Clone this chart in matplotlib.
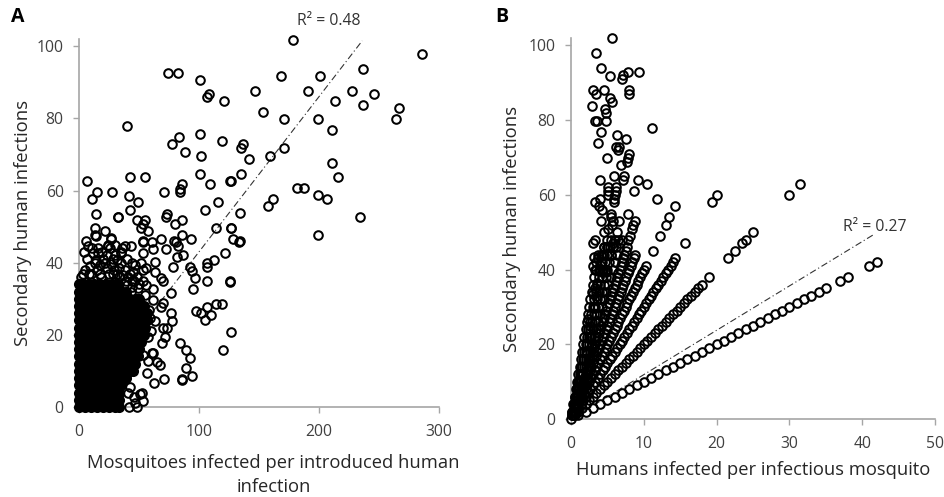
import matplotlib
matplotlib.use('Agg')
import matplotlib.pyplot as plt

plt.rcParams['font.family'] = ['Open Sans', 'DejaVu Sans']

# Panel A: scattered points that can be read one by one
a_x = [178.6, 286, 236.4, 168.6, 200.5, 146.7, 190.5, 227.5, 245.5, 213.6, 236.4, 266.7, 264.4,
       153.6, 170.8, 199.4, 210.6, 136.7, 134.7, 170.8, 142, 158.9, 210.6, 215.6, 134.7, 127,
       181.7, 187.8, 199.4, 206.7, 161.7, 157.8, 134.2, 234.4, 127, 199.4, 134,
       73.9, 82.5, 100.8, 108.3, 106.9, 121, 40, 83.3, 77.2, 100.8, 118.9, 88, 102, 100.8,
       6.7, 42.2, 55, 125.8, 108.9, 86, 84.2, 84.2, 14.7, 27.5, 71, 10.6, 41.4, 49.2, 115.8,
       14.4, 42.2, 105, 32.5, 32.7, 73.3, 72.2, 48.6, 55, 86, 80.3, 53.6, 51.7, 57.8, 114, 127,
       13.3, 21.4, 13.3, 26.7, 68.3, 85.6, 93, 79, 53, 128,
       14, 26.4, 60.6, 133, 53.6, 7.2, 24.5, 38, 43, 80.8, 82.8, 72.5, 61.5, 53.5, 86.6, 81.5,
       122, 112.5, 107, 106.4, 92.5, 94, 96.6, 95.3, 106.4, 125.8, 126.2, 76.4, 78.6, 69.7, 68,
       63.3, 62, 70.3, 68.6, 76.4, 77.2, 73, 69.7, 72, 69.4, 84.2, 89.2, 92.5, 119.7, 127,
       97.5, 106.4, 102, 105, 110, 114, 119.5, 89.2, 94, 85.6, 86.2, 71, 62.8, 67.5, 64.7,
       60.6, 57.4, 53.6, 48, 42, 46.7, 50.8,
       3, 7, 12, 16, 14.5, 17.5, 23, 30, 34.6, 31.5, 27, 23, 9, 33, 37, 28.6, 17.5, 46.6, 45,
       53.6, 56, 63, 56, 53.6, 49, 44, 42.5, 44, 39.7, 62, 59, 63, 57.7, 62, 53.6, 56.4, 42.5,
       41, 45.8, 52.6]
a_y = [101.7, 97.8, 93.7, 91.7, 91.7, 87.7, 87.7, 87.7, 86.7, 84.8, 83.8, 82.8, 79.8,
       81.7, 79.8, 79.8, 76.8, 72.8, 71.8, 71.8, 68.7, 69.7, 67.7, 63.7, 64.7, 62.7,
       60.7, 60.7, 58.7, 57.7, 57.7, 55.7, 53.7, 52.7, 49.6, 47.6, 46,
       92.7, 92.7, 90.7, 86.8, 85.8, 84.8, 77.8, 74.8, 72.8, 75.7, 73.8, 70.8, 69.7, 64.7,
       62.7, 63.7, 63.7, 62.7, 61.7, 61.7, 60.5, 59.6, 59.6, 59.6, 59.6, 57.6, 58.6, 56.7, 56.7,
       53.6, 54.7, 54.7, 52.7, 52.6, 53.6, 52.7, 51.7, 51.7, 51.7, 50.7, 50.7, 49.7, 48.7, 49.7, 49.7,
       49.7, 48.7, 47.6, 46.7, 46.7, 47.6, 46.7, 46, 46, 46.7,
       47.4, 46.8, 45.7, 45.7, 45.7, 44.7, 44.7, 44.7, 44.7, 45.7, 44.7, 43.7, 43.7, 42.7, 42, 41.6,
       42.7, 40.7, 39.8, 38.7, 38.7, 37.7, 35.7, 32.7, 34.8, 34.8, 34.7, 31.7, 38.7, 34.8, 35.7,
       37.5, 32.7, 28.7, 27.7, 26, 23.7, 22, 22, 19.5, 17.7, 17.7, 15.7, 13.6, 15.7, 20.7,
       26.7, 27.6, 26, 24.2, 25.5, 28.5, 28.5, 10.7, 8.7, 7.6, 7.8, 7.7, 6.6, 11.7, 12.5,
       15, 12.7, 1.8, 0, 0, 1, 3.7,
       37, 41, 42.6, 42.6, 40.7, 39.3, 42, 42, 42.6, 40.7, 39.6, 38.4, 39, 38.4, 36.6, 37, 37, 39.3, 37.5,
       38, 38.4, 40.2, 33.8, 35, 33, 35, 37, 33.3, 33.8, 29.7, 24.7, 23.7, 19.5, 15, 14.5, 9.4, 5.6,
       3.8, 2.7, 3.8]

# Panel A: the crowded band just above the solid mass
a_top_x = [2, 5, 10, 13, 18, 20, 25, 28, 32, 35, 38, 41, 4, 8, 11, 15, 19, 22, 26, 29, 33, 36, 40,
           44, 48, 52, 46, 50, 55, 39, 43, 47, 35, 30, 24, 16, 6, 58, 60]
a_top_y = [36, 38, 37, 40, 36, 41, 37, 41, 37, 40, 38, 36, 43, 37, 44, 38, 43, 40, 44, 38, 36, 44, 41,
           40, 36, 40, 35, 34, 31, 35, 32, 30, 43, 45, 45, 44, 46, 27, 21]

# Panel A: the solid mass near the origin, row by row
blob_y = [0, 2, 4, 6, 8, 10, 12, 14, 16, 18, 20, 22, 24, 26, 28, 30, 32, 34]
blob_x = [[0, 5, 10, 15, 20, 25, 30, 33],
          [0, 2.5, 7.5, 12.5, 17.5, 22.5, 27.5, 33],
          [0, 5, 10, 15, 20, 25, 30, 33],
          [0, 2.5, 7.5, 12.5, 17.5, 22.5, 27.5, 32.5, 35],
          [0, 5, 10, 15, 20, 25, 30, 35, 39],
          [0, 2.5, 7.5, 12.5, 17.5, 22.5, 27.5, 32.5, 37.5, 42.5, 45],
          [0, 5, 10, 15, 20, 25, 30, 35, 40, 45, 47],
          [0, 2.5, 7.5, 12.5, 17.5, 22.5, 27.5, 32.5, 37.5, 42.5, 47.5, 49],
          [0, 5, 10, 15, 20, 25, 30, 35, 40, 45, 50],
          [0, 2.5, 7.5, 12.5, 17.5, 22.5, 27.5, 32.5, 37.5, 42.5, 47.5, 52],
          [0, 5, 10, 15, 20, 25, 30, 35, 40, 45, 50, 54],
          [0, 2.5, 7.5, 12.5, 17.5, 22.5, 27.5, 32.5, 37.5, 42.5, 47.5, 52.5, 55],
          [0, 5, 10, 15, 20, 25, 30, 35, 40, 45, 50, 55, 57],
          [0, 2.5, 7.5, 12.5, 17.5, 22.5, 27.5, 32.5, 37.5, 42.5, 47.5, 52.5, 57],
          [0, 5, 10, 15, 20, 25, 30, 35, 40, 45, 50, 54],
          [0, 2.5, 7.5, 12.5, 17.5, 22.5, 27.5, 32.5, 37.5, 42.5, 47.5, 50],
          [0, 5, 10, 15, 20, 25, 30, 35, 39],
          [0, 2.5, 7.5, 12.5, 17.5, 22.5, 27.5, 32.5]]

trend_a_x = [0, 236]
trend_a_y = [0, 101.5]

# Panel B: the rays, each is a fixed ratio of humans to infected humans
ray1_x = [0, 1, 2, 3, 4, 5, 6, 7, 8, 9, 10, 11, 12, 13, 14, 15, 16, 17, 18, 19, 20, 21, 22, 23, 24,
          25, 26, 27, 28, 29, 30, 31, 32, 33, 34, 35, 37, 38, 41, 42]
ray1_y = [0, 1, 2, 3, 4, 5, 6, 7, 8, 9, 10, 11, 12, 13, 14, 15, 16, 17, 18, 19, 20, 21, 22, 23, 24,
          25, 26, 27, 28, 29, 30, 31, 32, 33, 34, 35, 37, 38, 41, 42]
ray2_x = [0.5, 1, 1.5, 2, 2.5, 3, 3.5, 4, 4.5, 5, 5.5, 6, 6.5, 7, 7.5, 8, 8.5, 9, 9.5, 10, 10.5, 11,
          11.5, 12, 12.5, 13, 13.5, 14, 14.5, 15, 15.5, 16, 16.5, 17, 17.5, 18, 19, 21.5, 22.5, 23.5,
          24, 25, 30, 31.5]
ray2_y = [1, 2, 3, 4, 5, 6, 7, 8, 9, 10, 11, 12, 13, 14, 15, 16, 17, 18, 19, 20, 21, 22,
          23, 24, 25, 26, 27, 28, 29, 30, 31, 32, 33, 34, 35, 36, 38, 43, 45, 47,
          48, 50, 60, 63]
ray3_x = [0.33, 0.67, 1, 1.33, 1.67, 2, 2.33, 2.67, 3, 3.33, 3.67, 4, 4.33, 4.67, 5, 5.33, 5.67, 6,
          6.33, 6.67, 7, 7.33, 7.67, 8, 8.33, 8.67, 9, 9.33, 9.67, 10, 10.33, 10.67, 11, 11.33, 11.67,
          12, 12.33, 12.67, 13, 13.33, 13.67, 14, 14.33, 15.67, 19.33, 20]
ray3_y = [1, 2, 3, 4, 5, 6, 7, 8, 9, 10, 11, 12, 13, 14, 15, 16, 17, 18,
          19, 20, 21, 22, 23, 24, 25, 26, 27, 28, 29, 30, 31, 32, 33, 34, 35,
          36, 37, 38, 39, 40, 41, 42, 43, 47, 58, 60]
ray4_x = [0.25, 0.5, 0.75, 1, 1.25, 1.5, 1.75, 2, 2.25, 2.5, 2.75, 3, 3.25, 3.5, 3.75, 4, 4.25, 4.5,
          4.75, 5, 5.25, 5.5, 5.75, 6, 6.25, 6.5, 6.75, 7, 7.25, 7.5, 7.75, 8, 8.25, 8.5, 8.75, 9,
          9.25, 9.5, 9.75, 10, 10.25, 11.25, 12.25, 13, 13.5, 14.25]
ray4_y = [1, 2, 3, 4, 5, 6, 7, 8, 9, 10, 11, 12, 13, 14, 15, 16, 17, 18,
          19, 20, 21, 22, 23, 24, 25, 26, 27, 28, 29, 30, 31, 32, 33, 34, 35, 36,
          37, 38, 39, 40, 41, 45, 49, 52, 54, 57]
ray5_x = [0.2, 0.4, 0.6, 0.8, 1, 1.2, 1.4, 1.6, 1.8, 2, 2.2, 2.4, 2.6, 2.8, 3, 3.2, 3.4, 3.6, 3.8, 4,
          4.2, 4.4, 4.6, 4.8, 5, 5.2, 5.4, 5.6, 5.8, 6, 6.2, 6.4, 6.6, 6.8, 7, 7.2, 7.4, 7.6, 7.8, 8,
          8.2, 8.4, 8.6, 8.8, 11.8]
ray5_y = [1, 2, 3, 4, 5, 6, 7, 8, 9, 10, 11, 12, 13, 14, 15, 16, 17, 18, 19, 20,
          21, 22, 23, 24, 25, 26, 27, 28, 29, 30, 31, 32, 33, 34, 35, 36, 37, 38, 39, 40,
          41, 42, 43, 44, 59]
ray6_x = [0.17, 0.33, 0.5, 0.67, 0.83, 1, 1.17, 1.33, 1.5, 1.67, 1.83, 2, 2.17, 2.33, 2.5, 2.67, 2.83,
          3, 3.17, 3.33, 3.5, 3.67, 3.83, 4, 4.17, 4.33, 4.5, 4.67, 4.83, 5, 5.17, 5.33, 5.5, 5.67,
          5.83, 6, 6.17, 6.33, 6.5, 6.67, 6.83, 7, 7.17, 7.33, 7.5, 7.67, 10.5]
ray6_y = [1, 2, 3, 4, 5, 6, 7, 8, 9, 10, 11, 12, 13, 14, 15, 16, 17,
          18, 19, 20, 21, 22, 23, 24, 25, 26, 27, 28, 29, 30, 31, 32, 33, 34,
          35, 36, 37, 38, 39, 40, 41, 42, 43, 44, 45, 46, 63]
ray7_x = [0.29, 0.57, 0.86, 1.14, 1.43, 1.71, 2, 2.29, 2.57, 2.86, 3.14, 3.43, 3.71, 4, 4.29, 4.57,
          4.86, 5.14, 5.43, 5.71, 6, 6.29, 8.71, 9.14, 11.14]
ray7_y = [2, 4, 6, 8, 10, 12, 14, 16, 18, 20, 22, 24, 26, 28, 30, 32,
          34, 36, 38, 40, 42, 44, 61, 64, 78]
ray8_x = [0.25, 0.5, 0.75, 1, 1.25, 1.5, 1.75, 2, 2.25, 2.5, 2.75, 3, 3.25, 3.5, 3.75, 4, 4.25, 4.5,
          4.75, 5, 5.25, 5.5, 5.75]
ray8_y = [2, 4, 6, 8, 10, 12, 14, 16, 18, 20, 22, 24, 26, 28, 30, 32, 34, 36,
          38, 40, 42, 44, 46]
ray9_x = [0.22, 0.44, 0.67, 0.89, 1.11, 1.33, 1.56, 1.78, 2, 2.22, 2.44, 2.67, 2.89, 3.11, 3.33, 3.56,
          3.78, 4, 4.22, 4.44, 4.67, 4.89, 5.11]
ray9_y = [2, 4, 6, 8, 10, 12, 14, 16, 18, 20, 22, 24, 26, 28, 30, 32,
          34, 36, 38, 40, 42, 44, 46]
ray10_x = [0.2, 0.4, 0.6, 0.8, 1, 1.2, 1.4, 1.6, 1.8, 2, 2.2, 2.4, 2.6, 2.8, 3, 3.2, 3.4, 3.6, 3.8, 4,
           4.2, 4.4, 4.6]
ray10_y = [2, 4, 6, 8, 10, 12, 14, 16, 18, 20, 22, 24, 26, 28, 30, 32, 34, 36, 38, 40,
           42, 44, 46]
ray12_x = [0.17, 0.33, 0.5, 0.67, 0.83, 1, 1.17, 1.33, 1.5, 1.67, 1.83, 2, 2.17, 2.33, 2.5, 2.67,
           2.83, 3, 3.17, 3.33, 3.5, 3.67]
ray12_y = [2, 4, 6, 8, 10, 12, 14, 16, 18, 20, 22, 24, 26, 28, 30, 32,
           34, 36, 38, 40, 42, 44]

# Panel B: the rest of the points, mostly the upper cloud
b_x = [5.67, 3.38, 4.07, 5.4, 7.77, 9.33, 7.18, 7.04, 2.97, 4.49, 3.48, 8, 7.95, 5.4, 5.67, 2.88,
       4.62, 4.8, 3.3, 3.6, 4.8, 4.07, 6.36, 7.5, 3.7, 6.13, 6.63, 6.5, 7.96, 4.98, 7.77, 7.68, 6.81,
       5.94, 7.22, 7.13, 4.03, 5.12, 5.12, 5.12, 6.17, 6.17, 6.03, 5.94, 5.85, 3.98, 3.29, 3.84, 4.3,
       7.87, 5.44, 5.44, 4.07, 5.8, 6.63, 8.78, 8.55, 5.58, 5.12, 8.32, 4.53, 6.27, 8.1, 7.87, 3.29,
       2.97, 4.9, 5.8, 6.7,
       3.2, 3.75, 3.07, 3.98, 4.2, 4.8, 3.6, 3.3, 3.07, 3.6, 3.2, 2.4, 2.6, 2.6, 2.85, 2.25, 1.7, 1.2, 1.4,
       5, 5.5, 6, 6.5, 7, 4.5, 4.9, 5.3, 5.8, 6.2, 4.1, 4.5, 5, 5.5, 3.5, 3.9, 4.3, 4.8]
b_y = [101.9, 97.9, 93.9, 91.9, 93, 93, 92, 91, 88, 88, 87, 88, 87, 86, 85, 83.9,
       82.9, 81.9, 79.9, 79.9, 79.9, 76.9, 75.9, 74.9, 73.9, 72.9, 72.9, 71.9, 70.9, 70, 70, 68.9, 67.9,
       65, 65, 63.9, 63.9, 62, 61, 60, 62, 61, 60, 59, 58, 59, 58, 57, 56,
       55, 55, 54, 53, 53, 53, 53, 52, 52, 51, 51, 50, 50, 49, 48, 48,
       47, 46, 47, 47,
       43.4, 43, 41, 41.2, 39.3, 39.3, 36.5, 35, 33.5, 33, 29.6, 26.8, 25, 22, 19.5, 17.3, 10, 7.4, 5.9,
       48, 48, 48, 48, 48, 46, 46, 46, 46, 46, 44, 44, 44, 44, 40, 40, 40, 40]

trend_b_x = [0, 41.6]
trend_b_y = [0, 49.4]

xticks_a = [0, 100, 200, 300]
xticks_b = [0, 10, 20, 30, 40, 50]
yticks = [0, 20, 40, 60, 80, 100]

W, H = 944, 497
fig = plt.figure(figsize=(W / 100, H / 100), dpi=100)
ax1 = fig.add_axes([79 / W, (H - 407) / H, 360 / W, 368 / H])
ax2 = fig.add_axes([571 / W, (H - 419) / H, 364 / W, 381 / H])

ring = dict(ls='none', marker='o', ms=6.2, mfc='none', mec='black', mew=1.45, clip_on=False, zorder=3)
trend = dict(color='#333333', lw=0.8, ls=(0, (6, 2.5, 1, 2.5)), zorder=2)


def style(ax, xticks):
    for s in ['top', 'right']:
        ax.spines[s].set_visible(False)
    for s in ['left', 'bottom']:
        ax.spines[s].set_color('#a6a6a6')
        ax.spines[s].set_linewidth(1.2)
    ax.set_xticks(xticks)
    ax.set_yticks(yticks)
    ax.tick_params(length=4, width=1, color='#a6a6a6', labelsize=11.3, labelcolor='#404040')
    ax.tick_params(axis='x', pad=8)
    ax.tick_params(axis='y', pad=7)
    ax.set_xlim(xticks[0], xticks[-1])
    ax.set_ylim(0, 102)


# panel A
style(ax1, xticks_a)
ax1.plot(trend_a_x, trend_a_y, **trend)
for yv, xs in zip(blob_y, blob_x):
    ax1.plot(xs, [yv] * len(xs), ls='none', marker='o', ms=8, mfc='black', mec='black',
             mew=0, clip_on=False, zorder=3)
ax1.plot(a_x, a_y, **ring)
ax1.plot(a_top_x, a_top_y, **ring)
ax1.set_ylabel('Secondary human infections', fontsize=13.3, color='#262626', labelpad=3.5)
ax1.set_xlabel('Mosquitoes infected per introduced human\ninfection', fontsize=13.2, color='#262626',
               labelpad=10, linespacing=1.45, x=0.54)
fig.text(297 / W, 1 - 21 / H, 'R² = 0.48', fontsize=11.3, color='#333333', va='center')
fig.text(11 / W, 1 - 17 / H, 'A', fontsize=14, fontweight='bold', va='center')

# panel B
style(ax2, xticks_b)
ax2.plot(trend_b_x, trend_b_y, **trend)
for xs, ys in [(ray1_x, ray1_y), (ray2_x, ray2_y), (ray3_x, ray3_y), (ray4_x, ray4_y),
               (ray5_x, ray5_y), (ray6_x, ray6_y), (ray7_x, ray7_y), (ray8_x, ray8_y),
               (ray9_x, ray9_y), (ray10_x, ray10_y), (ray12_x, ray12_y), (b_x, b_y)]:
    ax2.plot(xs, ys, **ring)
ax2.set_ylabel('Secondary human infections', fontsize=13.3, color='#262626', labelpad=5.5)
ax2.set_xlabel('Humans infected per infectious mosquito', fontsize=13.2, color='#262626', labelpad=7)
fig.text(843 / W, 1 - 227 / H, 'R² = 0.27', fontsize=11.3, color='#333333', va='center')
fig.text(495 / W, 1 - 17 / H, 'B', fontsize=14, fontweight='bold', va='center')

fig.savefig('out.png', dpi=100)
